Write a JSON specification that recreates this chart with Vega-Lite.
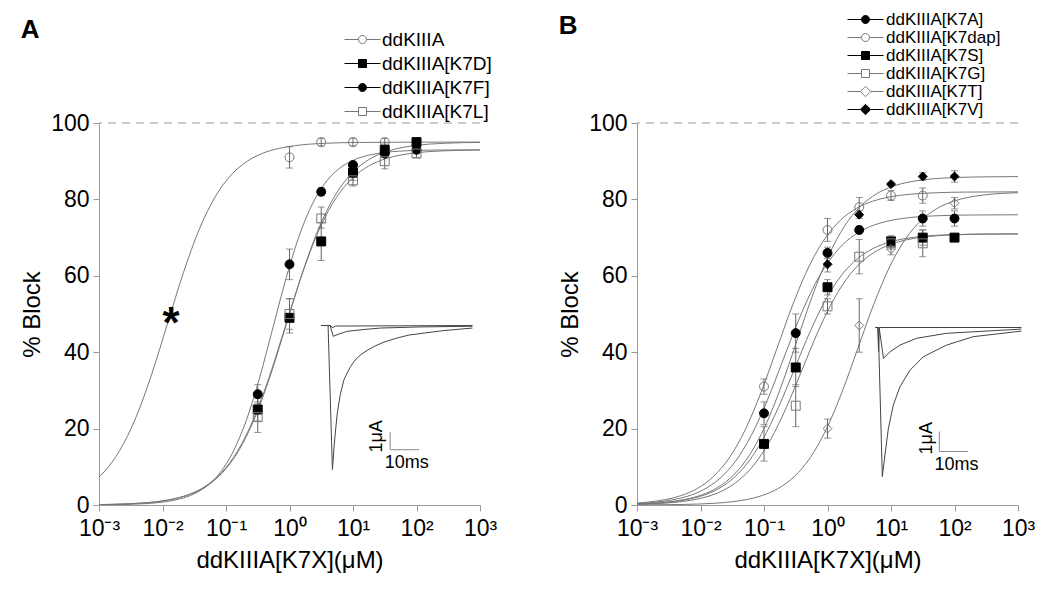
{
  "$schema": "https://vega.github.io/schema/vega-lite/v6.json",
  "background": "white",
  "padding": {"left": 20, "top": 11, "right": 5, "bottom": 5},
  "bounds": "flush",
  "spacing": 157,
  "resolve": {"scale": {"shape": "independent", "fill": "independent", "stroke": "independent"}, "legend": {"shape": "independent", "fill": "independent", "stroke": "independent"}},
  "config": {
    "view": {"stroke": null},
    "font": "Liberation Sans",
    "axis": {"domainColor": "#999", "tickColor": "#999", "labelColor": "black", "titleColor": "black", "grid": false, "labelFont": "Liberation Sans", "titleFont": "Liberation Sans", "labelFontSize": 23, "titleFontSize": 24, "titleFontWeight": "normal", "tickSize": 6, "labelFlush": false, "labelOverlap": false},
    "legend": {"labelFont": "Liberation Sans", "labelColor": "black", "padding": 0, "title": null, "symbolStrokeWidth": 1}
  },
  "datasets": {
    "ptsA": [
      {"s":"ddKIIIA","c":1,"v":91,"lo":88.2,"hi":93.8},
      {"s":"ddKIIIA","c":3.16,"v":95,"lo":94,"hi":96},
      {"s":"ddKIIIA","c":10,"v":95,"lo":94,"hi":96},
      {"s":"ddKIIIA","c":31.6,"v":95,"lo":94,"hi":96},
      {"s":"ddKIIIA[K7D]","c":0.316,"v":25,"lo":22,"hi":28},
      {"s":"ddKIIIA[K7D]","c":1,"v":49,"lo":45,"hi":54},
      {"s":"ddKIIIA[K7D]","c":3.16,"v":69,"lo":64,"hi":74},
      {"s":"ddKIIIA[K7D]","c":10,"v":87,"lo":85,"hi":89},
      {"s":"ddKIIIA[K7D]","c":31.6,"v":93,"lo":91.5,"hi":94.5},
      {"s":"ddKIIIA[K7D]","c":100,"v":95,"lo":94,"hi":96},
      {"s":"ddKIIIA[K7F]","c":0.316,"v":29,"lo":26.5,"hi":31.5},
      {"s":"ddKIIIA[K7F]","c":1,"v":63,"lo":59,"hi":67},
      {"s":"ddKIIIA[K7F]","c":3.16,"v":82,"lo":81,"hi":83},
      {"s":"ddKIIIA[K7F]","c":10,"v":89,"lo":88,"hi":90},
      {"s":"ddKIIIA[K7F]","c":31.6,"v":92,"lo":91,"hi":93},
      {"s":"ddKIIIA[K7F]","c":100,"v":93,"lo":92,"hi":94},
      {"s":"ddKIIIA[K7L]","c":0.316,"v":23,"lo":19,"hi":27},
      {"s":"ddKIIIA[K7L]","c":1,"v":50,"lo":46,"hi":54},
      {"s":"ddKIIIA[K7L]","c":3.16,"v":75,"lo":72.5,"hi":78},
      {"s":"ddKIIIA[K7L]","c":10,"v":85,"lo":83.5,"hi":86.5},
      {"s":"ddKIIIA[K7L]","c":31.6,"v":90,"lo":88,"hi":92},
      {"s":"ddKIIIA[K7L]","c":100,"v":92,"lo":91,"hi":93}
    ],
    "curveA": [
      {"s":"ddKIIIA","c":0.000675,"v":5.06},{"s":"ddKIIIA","c":0.0012,"v":8.64},{"s":"ddKIIIA","c":0.002134,"v":14.34},{"s":"ddKIIIA","c":0.003795,"v":22.82},{"s":"ddKIIIA","c":0.006748,"v":34.19},{"s":"ddKIIIA","c":0.012,"v":47.5},{"s":"ddKIIIA","c":0.02134,"v":60.81},{"s":"ddKIIIA","c":0.03795,"v":72.18},{"s":"ddKIIIA","c":0.06748,"v":80.66},{"s":"ddKIIIA","c":0.12,"v":86.36},{"s":"ddKIIIA","c":0.2134,"v":89.94},{"s":"ddKIIIA","c":0.3795,"v":92.09},{"s":"ddKIIIA","c":0.6748,"v":93.34},{"s":"ddKIIIA","c":1.2,"v":94.06},{"s":"ddKIIIA","c":3.795,"v":94.7},{"s":"ddKIIIA","c":12,"v":94.91},{"s":"ddKIIIA","c":120,"v":94.99},{"s":"ddKIIIA","c":1200,"v":95},
      {"s":"ddKIIIA[K7D]","c":0.0009,"v":0.095},{"s":"ddKIIIA[K7D]","c":0.002846,"v":0.3},{"s":"ddKIIIA[K7D]","c":0.005061,"v":0.53},{"s":"ddKIIIA[K7D]","c":0.009,"v":0.94},{"s":"ddKIIIA[K7D]","c":0.016,"v":1.66},{"s":"ddKIIIA[K7D]","c":0.02846,"v":2.91},{"s":"ddKIIIA[K7D]","c":0.05061,"v":5.06},{"s":"ddKIIIA[K7D]","c":0.09,"v":8.64},{"s":"ddKIIIA[K7D]","c":0.16,"v":14.34},{"s":"ddKIIIA[K7D]","c":0.2846,"v":22.82},{"s":"ddKIIIA[K7D]","c":0.5061,"v":34.19},{"s":"ddKIIIA[K7D]","c":0.9,"v":47.5},{"s":"ddKIIIA[K7D]","c":1.6,"v":60.81},{"s":"ddKIIIA[K7D]","c":2.846,"v":72.18},{"s":"ddKIIIA[K7D]","c":5.061,"v":80.66},{"s":"ddKIIIA[K7D]","c":9,"v":86.36},{"s":"ddKIIIA[K7D]","c":16,"v":89.94},{"s":"ddKIIIA[K7D]","c":28.46,"v":92.09},{"s":"ddKIIIA[K7D]","c":50.61,"v":93.34},{"s":"ddKIIIA[K7D]","c":90,"v":94.06},{"s":"ddKIIIA[K7D]","c":284.6,"v":94.7},{"s":"ddKIIIA[K7D]","c":900,"v":94.91},{"s":"ddKIIIA[K7D]","c":2846,"v":94.97},
      {"s":"ddKIIIA[K7F]","c":0.000255,"v":0.009},{"s":"ddKIIIA[K7F]","c":0.001739,"v":0.093},{"s":"ddKIIIA[K7F]","c":0.00454,"v":0.293},{"s":"ddKIIIA[K7F]","c":0.01185,"v":0.921},{"s":"ddKIIIA[K7F]","c":0.01914,"v":1.625},{"s":"ddKIIIA[K7F]","c":0.03093,"v":2.851},{"s":"ddKIIIA[K7F]","c":0.04997,"v":4.952},{"s":"ddKIIIA[K7F]","c":0.08074,"v":8.455},{"s":"ddKIIIA[K7F]","c":0.1304,"v":14.04},{"s":"ddKIIIA[K7F]","c":0.2107,"v":22.34},{"s":"ddKIIIA[K7F]","c":0.3404,"v":33.47},{"s":"ddKIIIA[K7F]","c":0.55,"v":46.5},{"s":"ddKIIIA[K7F]","c":0.8887,"v":59.53},{"s":"ddKIIIA[K7F]","c":1.4355,"v":70.66},{"s":"ddKIIIA[K7F]","c":2.319,"v":78.96},{"s":"ddKIIIA[K7F]","c":3.747,"v":84.55},{"s":"ddKIIIA[K7F]","c":6.054,"v":88.05},{"s":"ddKIIIA[K7F]","c":9.779,"v":90.15},{"s":"ddKIIIA[K7F]","c":15.8,"v":91.37},{"s":"ddKIIIA[K7F]","c":25.53,"v":92.08},{"s":"ddKIIIA[K7F]","c":66.66,"v":92.71},{"s":"ddKIIIA[K7F]","c":173.9,"v":92.91},{"s":"ddKIIIA[K7F]","c":1185,"v":92.99},
      {"s":"ddKIIIA[K7L]","c":0.00085,"v":0.093},{"s":"ddKIIIA[K7L]","c":0.002688,"v":0.293},{"s":"ddKIIIA[K7L]","c":0.00478,"v":0.52},{"s":"ddKIIIA[K7L]","c":0.0085,"v":0.921},{"s":"ddKIIIA[K7L]","c":0.01511,"v":1.625},{"s":"ddKIIIA[K7L]","c":0.02688,"v":2.851},{"s":"ddKIIIA[K7L]","c":0.0478,"v":4.952},{"s":"ddKIIIA[K7L]","c":0.085,"v":8.455},{"s":"ddKIIIA[K7L]","c":0.1511,"v":14.04},{"s":"ddKIIIA[K7L]","c":0.2688,"v":22.34},{"s":"ddKIIIA[K7L]","c":0.478,"v":33.47},{"s":"ddKIIIA[K7L]","c":0.85,"v":46.5},{"s":"ddKIIIA[K7L]","c":1.511,"v":59.53},{"s":"ddKIIIA[K7L]","c":2.688,"v":70.66},{"s":"ddKIIIA[K7L]","c":4.78,"v":78.96},{"s":"ddKIIIA[K7L]","c":8.5,"v":84.55},{"s":"ddKIIIA[K7L]","c":15.11,"v":88.05},{"s":"ddKIIIA[K7L]","c":26.88,"v":90.15},{"s":"ddKIIIA[K7L]","c":47.8,"v":91.37},{"s":"ddKIIIA[K7L]","c":85,"v":92.08},{"s":"ddKIIIA[K7L]","c":268.8,"v":92.71},{"s":"ddKIIIA[K7L]","c":850,"v":92.91},{"s":"ddKIIIA[K7L]","c":2688,"v":92.97}
    ],
    "traceA": [
      {"tr":"big","t":0,"I":0},{"tr":"big","t":2.4,"I":0},{"tr":"big","t":3.9,"I":-8.0},{"tr":"big","t":4.5,"I":-6.7},{"tr":"big","t":5.0,"I":-5.8},{"tr":"big","t":5.6,"I":-4.85},{"tr":"big","t":6.6,"I":-3.85},{"tr":"big","t":7.9,"I":-3.0},{"tr":"big","t":9.0,"I":-2.64},{"tr":"big","t":10.2,"I":-2.27},{"tr":"big","t":11.7,"I":-1.92},{"tr":"big","t":13.7,"I":-1.62},{"tr":"big","t":15.5,"I":-1.42},{"tr":"big","t":18.3,"I":-1.16},{"tr":"big","t":21.7,"I":-0.92},{"tr":"big","t":26.3,"I":-0.69},{"tr":"big","t":30.3,"I":-0.53},{"tr":"big","t":35.5,"I":-0.42},{"tr":"big","t":42.4,"I":-0.28},{"tr":"big","t":52.2,"I":-0.14},
      {"tr":"mid","t":0,"I":0},{"tr":"mid","t":3.1,"I":0},{"tr":"mid","t":4.2,"I":-0.6},{"tr":"mid","t":6.2,"I":-0.47},{"tr":"mid","t":9.1,"I":-0.32},{"tr":"mid","t":14.8,"I":-0.22},{"tr":"mid","t":20.6,"I":-0.14},{"tr":"mid","t":33.8,"I":-0.08},{"tr":"mid","t":52.2,"I":-0.04},
      {"tr":"small","t":0,"I":0},{"tr":"small","t":3.3,"I":0},{"tr":"small","t":3.8,"I":-0.12},{"tr":"small","t":5.0,"I":-0.03},{"tr":"small","t":52.2,"I":0}
    ],
    "barA": [
      {"t":23.8,"t2":23.8,"I":-6.9,"I2":-5.9},
      {"t":23.8,"t2":33.8,"I":-6.9,"I2":-6.9}
    ],
    "ptsB": [
      {"s":"ddKIIIA[K7A]","c":0.1,"v":24,"lo":21,"hi":27},
      {"s":"ddKIIIA[K7A]","c":0.316,"v":45,"lo":40,"hi":50},
      {"s":"ddKIIIA[K7A]","c":1,"v":66,"lo":64.5,"hi":67.5},
      {"s":"ddKIIIA[K7A]","c":3.16,"v":72,"lo":71,"hi":73},
      {"s":"ddKIIIA[K7A]","c":31.6,"v":75,"lo":73,"hi":77},
      {"s":"ddKIIIA[K7A]","c":100,"v":75,"lo":73,"hi":77},
      {"s":"ddKIIIA[K7dap]","c":0.1,"v":31,"lo":29,"hi":33},
      {"s":"ddKIIIA[K7dap]","c":1,"v":72,"lo":69,"hi":75},
      {"s":"ddKIIIA[K7dap]","c":3.16,"v":78,"lo":75.5,"hi":80.5},
      {"s":"ddKIIIA[K7dap]","c":10,"v":81,"lo":79.7,"hi":82.3},
      {"s":"ddKIIIA[K7dap]","c":31.6,"v":81,"lo":79,"hi":83},
      {"s":"ddKIIIA[K7S]","c":0.1,"v":16,"lo":11.5,"hi":20.5},
      {"s":"ddKIIIA[K7S]","c":0.316,"v":36,"lo":31,"hi":41},
      {"s":"ddKIIIA[K7S]","c":1,"v":57,"lo":55,"hi":59},
      {"s":"ddKIIIA[K7S]","c":10,"v":69,"lo":67.5,"hi":70.5},
      {"s":"ddKIIIA[K7S]","c":31.6,"v":70,"lo":68,"hi":72},
      {"s":"ddKIIIA[K7S]","c":100,"v":70,"lo":69,"hi":71},
      {"s":"ddKIIIA[K7G]","c":0.316,"v":26,"lo":20.5,"hi":31.5},
      {"s":"ddKIIIA[K7G]","c":1,"v":52,"lo":50,"hi":54},
      {"s":"ddKIIIA[K7G]","c":3.16,"v":65,"lo":60.5,"hi":69.5},
      {"s":"ddKIIIA[K7G]","c":10,"v":68.5,"lo":67,"hi":70},
      {"s":"ddKIIIA[K7G]","c":31.6,"v":68.5,"lo":65,"hi":72},
      {"s":"ddKIIIA[K7T]","c":1,"v":20,"lo":17.5,"hi":22.5},
      {"s":"ddKIIIA[K7T]","c":3.16,"v":47,"lo":40,"hi":54},
      {"s":"ddKIIIA[K7T]","c":10,"v":67,"lo":65.5,"hi":68.5},
      {"s":"ddKIIIA[K7T]","c":100,"v":79,"lo":77.5,"hi":80.5},
      {"s":"ddKIIIA[K7V]","c":1,"v":63,"lo":61,"hi":65},
      {"s":"ddKIIIA[K7V]","c":3.16,"v":76,"lo":75,"hi":77},
      {"s":"ddKIIIA[K7V]","c":10,"v":84,"lo":83.5,"hi":84.5},
      {"s":"ddKIIIA[K7V]","c":31.6,"v":86,"lo":85,"hi":87},
      {"s":"ddKIIIA[K7V]","c":100,"v":86,"lo":84.5,"hi":87.5}
    ],
    "curveB": [
      {"s":"ddKIIIA[K7A]","c":0.0006324,"v":0.24},{"s":"ddKIIIA[K7A]","c":0.0011246,"v":0.425},{"s":"ddKIIIA[K7A]","c":0.002,"v":0.752},{"s":"ddKIIIA[K7A]","c":0.003556,"v":1.328},{"s":"ddKIIIA[K7A]","c":0.006324,"v":2.33},{"s":"ddKIIIA[K7A]","c":0.011246,"v":4.047},{"s":"ddKIIIA[K7A]","c":0.02,"v":6.909},{"s":"ddKIIIA[K7A]","c":0.03556,"v":11.48},{"s":"ddKIIIA[K7A]","c":0.06324,"v":18.26},{"s":"ddKIIIA[K7A]","c":0.11246,"v":27.36},{"s":"ddKIIIA[K7A]","c":0.2,"v":38},{"s":"ddKIIIA[K7A]","c":0.3556,"v":48.64},{"s":"ddKIIIA[K7A]","c":0.6324,"v":57.74},{"s":"ddKIIIA[K7A]","c":1.1246,"v":64.52},{"s":"ddKIIIA[K7A]","c":2,"v":69.09},{"s":"ddKIIIA[K7A]","c":3.556,"v":71.95},{"s":"ddKIIIA[K7A]","c":6.324,"v":73.67},{"s":"ddKIIIA[K7A]","c":11.246,"v":74.67},{"s":"ddKIIIA[K7A]","c":20,"v":75.25},{"s":"ddKIIIA[K7A]","c":63.24,"v":75.76},{"s":"ddKIIIA[K7A]","c":200,"v":75.92},{"s":"ddKIIIA[K7A]","c":2000,"v":75.99},
      {"s":"ddKIIIA[K7dap]","c":0.0008997,"v":0.4585},{"s":"ddKIIIA[K7dap]","c":0.0016,"v":0.812},{"s":"ddKIIIA[K7dap]","c":0.002845,"v":1.433},{"s":"ddKIIIA[K7dap]","c":0.005059,"v":2.514},{"s":"ddKIIIA[K7dap]","c":0.008997,"v":4.366},{"s":"ddKIIIA[K7dap]","c":0.016,"v":7.455},{"s":"ddKIIIA[K7dap]","c":0.02845,"v":12.38},{"s":"ddKIIIA[K7dap]","c":0.05059,"v":19.7},{"s":"ddKIIIA[K7dap]","c":0.08997,"v":29.51},{"s":"ddKIIIA[K7dap]","c":0.16,"v":41},{"s":"ddKIIIA[K7dap]","c":0.2845,"v":52.49},{"s":"ddKIIIA[K7dap]","c":0.5059,"v":62.3},{"s":"ddKIIIA[K7dap]","c":0.8997,"v":69.62},{"s":"ddKIIIA[K7dap]","c":1.6,"v":74.55},{"s":"ddKIIIA[K7dap]","c":2.845,"v":77.63},{"s":"ddKIIIA[K7dap]","c":5.059,"v":79.49},{"s":"ddKIIIA[K7dap]","c":8.997,"v":80.57},{"s":"ddKIIIA[K7dap]","c":16,"v":81.19},{"s":"ddKIIIA[K7dap]","c":50.59,"v":81.74},{"s":"ddKIIIA[K7dap]","c":160,"v":81.92},{"s":"ddKIIIA[K7dap]","c":1600,"v":81.99},
      {"s":"ddKIIIA[K7S]","c":0.0009487,"v":0.224},{"s":"ddKIIIA[K7S]","c":0.001687,"v":0.397},{"s":"ddKIIIA[K7S]","c":0.003,"v":0.703},{"s":"ddKIIIA[K7S]","c":0.005335,"v":1.241},{"s":"ddKIIIA[K7S]","c":0.009487,"v":2.176},{"s":"ddKIIIA[K7S]","c":0.01687,"v":3.78},{"s":"ddKIIIA[K7S]","c":0.03,"v":6.455},{"s":"ddKIIIA[K7S]","c":0.05335,"v":10.72},{"s":"ddKIIIA[K7S]","c":0.09487,"v":17.06},{"s":"ddKIIIA[K7S]","c":0.1687,"v":25.56},{"s":"ddKIIIA[K7S]","c":0.3,"v":35.5},{"s":"ddKIIIA[K7S]","c":0.5335,"v":45.44},{"s":"ddKIIIA[K7S]","c":0.9487,"v":53.94},{"s":"ddKIIIA[K7S]","c":1.687,"v":60.28},{"s":"ddKIIIA[K7S]","c":3,"v":64.55},{"s":"ddKIIIA[K7S]","c":5.335,"v":67.22},{"s":"ddKIIIA[K7S]","c":9.487,"v":68.82},{"s":"ddKIIIA[K7S]","c":16.87,"v":69.76},{"s":"ddKIIIA[K7S]","c":30,"v":70.3},{"s":"ddKIIIA[K7S]","c":94.87,"v":70.78},{"s":"ddKIIIA[K7S]","c":300,"v":70.93},{"s":"ddKIIIA[K7S]","c":3000,"v":70.99},
      {"s":"ddKIIIA[K7G]","c":0.0004,"v":0.071},{"s":"ddKIIIA[K7G]","c":0.001265,"v":0.224},{"s":"ddKIIIA[K7G]","c":0.002249,"v":0.397},{"s":"ddKIIIA[K7G]","c":0.004,"v":0.703},{"s":"ddKIIIA[K7G]","c":0.007113,"v":1.241},{"s":"ddKIIIA[K7G]","c":0.01265,"v":2.176},{"s":"ddKIIIA[K7G]","c":0.02249,"v":3.78},{"s":"ddKIIIA[K7G]","c":0.04,"v":6.455},{"s":"ddKIIIA[K7G]","c":0.07113,"v":10.72},{"s":"ddKIIIA[K7G]","c":0.1265,"v":17.06},{"s":"ddKIIIA[K7G]","c":0.2249,"v":25.56},{"s":"ddKIIIA[K7G]","c":0.4,"v":35.5},{"s":"ddKIIIA[K7G]","c":0.7113,"v":45.44},{"s":"ddKIIIA[K7G]","c":1.265,"v":53.94},{"s":"ddKIIIA[K7G]","c":2.249,"v":60.28},{"s":"ddKIIIA[K7G]","c":4,"v":64.55},{"s":"ddKIIIA[K7G]","c":7.113,"v":67.22},{"s":"ddKIIIA[K7G]","c":12.65,"v":68.82},{"s":"ddKIIIA[K7G]","c":22.49,"v":69.76},{"s":"ddKIIIA[K7G]","c":40,"v":70.3},{"s":"ddKIIIA[K7G]","c":126.5,"v":70.78},{"s":"ddKIIIA[K7G]","c":400,"v":70.93},{"s":"ddKIIIA[K7G]","c":1265,"v":70.98},
      {"s":"ddKIIIA[K7T]","c":0.0009487,"v":0.026},{"s":"ddKIIIA[K7T]","c":0.003,"v":0.082},{"s":"ddKIIIA[K7T]","c":0.009487,"v":0.2585},{"s":"ddKIIIA[K7T]","c":0.01687,"v":0.4585},{"s":"ddKIIIA[K7T]","c":0.03,"v":0.812},{"s":"ddKIIIA[K7T]","c":0.05335,"v":1.433},{"s":"ddKIIIA[K7T]","c":0.09487,"v":2.514},{"s":"ddKIIIA[K7T]","c":0.1687,"v":4.366},{"s":"ddKIIIA[K7T]","c":0.3,"v":7.455},{"s":"ddKIIIA[K7T]","c":0.5335,"v":12.38},{"s":"ddKIIIA[K7T]","c":0.9487,"v":19.7},{"s":"ddKIIIA[K7T]","c":1.687,"v":29.51},{"s":"ddKIIIA[K7T]","c":3,"v":41},{"s":"ddKIIIA[K7T]","c":5.335,"v":52.49},{"s":"ddKIIIA[K7T]","c":9.487,"v":62.3},{"s":"ddKIIIA[K7T]","c":16.87,"v":69.62},{"s":"ddKIIIA[K7T]","c":30,"v":74.55},{"s":"ddKIIIA[K7T]","c":53.35,"v":77.63},{"s":"ddKIIIA[K7T]","c":94.87,"v":79.49},{"s":"ddKIIIA[K7T]","c":168.7,"v":80.57},{"s":"ddKIIIA[K7T]","c":300,"v":81.19},{"s":"ddKIIIA[K7T]","c":948.7,"v":81.74},{"s":"ddKIIIA[K7T]","c":3000,"v":81.92},
      {"s":"ddKIIIA[K7V]","c":0.00033,"v":0.086},{"s":"ddKIIIA[K7V]","c":0.0010435,"v":0.271},{"s":"ddKIIIA[K7V]","c":0.001856,"v":0.481},{"s":"ddKIIIA[K7V]","c":0.0033,"v":0.851},{"s":"ddKIIIA[K7V]","c":0.005868,"v":1.503},{"s":"ddKIIIA[K7V]","c":0.010435,"v":2.636},{"s":"ddKIIIA[K7V]","c":0.018556,"v":4.579},{"s":"ddKIIIA[K7V]","c":0.033,"v":7.818},{"s":"ddKIIIA[K7V]","c":0.05868,"v":12.99},{"s":"ddKIIIA[K7V]","c":0.10435,"v":20.66},{"s":"ddKIIIA[K7V]","c":0.18556,"v":30.95},{"s":"ddKIIIA[K7V]","c":0.33,"v":43},{"s":"ddKIIIA[K7V]","c":0.5868,"v":55.05},{"s":"ddKIIIA[K7V]","c":1.0435,"v":65.34},{"s":"ddKIIIA[K7V]","c":1.8556,"v":73.01},{"s":"ddKIIIA[K7V]","c":3.3,"v":78.18},{"s":"ddKIIIA[K7V]","c":5.868,"v":81.42},{"s":"ddKIIIA[K7V]","c":10.435,"v":83.36},{"s":"ddKIIIA[K7V]","c":18.556,"v":84.5},{"s":"ddKIIIA[K7V]","c":33,"v":85.15},{"s":"ddKIIIA[K7V]","c":104.35,"v":85.73},{"s":"ddKIIIA[K7V]","c":330,"v":85.91},{"s":"ddKIIIA[K7V]","c":1043.5,"v":85.97}
    ],
    "traceB": [
      {"tr":"big","t":0,"I":0},{"tr":"big","t":1.1,"I":0},{"tr":"big","t":2.5,"I":-7.46},{"tr":"big","t":3.4,"I":-6.38},{"tr":"big","t":4.6,"I":-5.04},{"tr":"big","t":6.3,"I":-3.88},{"tr":"big","t":8.6,"I":-2.96},{"tr":"big","t":12.1,"I":-2.13},{"tr":"big","t":16.7,"I":-1.46},{"tr":"big","t":24.7,"I":-0.88},{"tr":"big","t":33.9,"I":-0.46},{"tr":"big","t":50.6,"I":-0.18},
      {"tr":"mid","t":0,"I":0},{"tr":"mid","t":1.4,"I":0},{"tr":"mid","t":2.9,"I":-1.54},{"tr":"mid","t":5.2,"I":-1.21},{"tr":"mid","t":8.6,"I":-0.88},{"tr":"mid","t":14.3,"I":-0.54},{"tr":"mid","t":24.7,"I":-0.29},{"tr":"mid","t":50.6,"I":-0.08},
      {"tr":"small","t":0,"I":0},{"tr":"small","t":0.9,"I":0},{"tr":"small","t":1.2,"I":-1.2},{"tr":"small","t":1.5,"I":0},{"tr":"small","t":50.6,"I":0}
    ],
    "barB": [
      {"t":22.2,"t2":22.2,"I":-6.2,"I2":-5.2},
      {"t":22.2,"t2":32.2,"I":-6.2,"I2":-6.2}
    ]
  },
  "hconcat": [
    {
      "width": 381,
      "height": 382,
      "title": {"text": "A", "anchor": "start", "frame": "bounds", "font": "Liberation Sans", "fontSize": 26, "fontWeight": "bold", "color": "black", "offset": -13},
      "layer": [
        {
          "layer": [
            {
              "data": {"name": "curveA"},
              "mark": {"type": "line", "interpolate": "monotone", "color": "#777", "strokeWidth": 1, "clip": true},
              "encoding": {
                "x": {"field": "c", "type": "quantitative", "title": "ddKIIIA[K7X](μM)", "scale": {"type": "log", "domain": [0.001, 1000], "nice": false}, "axis": {"values": [0.001, 0.01, 0.1, 1, 10, 100, 1000], "labelExpr": "['10⁻³','10⁻²','10⁻¹','10⁰','10¹','10²','10³'][round(log(datum.value)/LN10) + 3]", "labelPadding": 6, "titlePadding": 8}},
                "y": {"field": "v", "type": "quantitative", "title": "% Block", "scale": {"domain": [0, 100], "nice": false}, "axis": {"values": [0, 20, 40, 60, 80, 100], "labelPadding": 4, "titlePadding": 6}},
                "detail": {"field": "s"}
              }
            },
            {
              "data": {"values": [{"ref": 100}]},
              "mark": {"type": "rule", "color": "#999", "strokeWidth": 1, "strokeDash": [8, 6]},
              "encoding": {"y": {"field": "ref", "type": "quantitative", "title": "% Block"}}
            },
            {
              "data": {"name": "ptsA"},
              "mark": {"type": "errorbar", "ticks": true, "size": 7, "thickness": 1, "color": "#666"},
              "encoding": {
                "x": {"field": "c", "type": "quantitative", "title": "ddKIIIA[K7X](μM)"},
                "y": {"field": "lo", "type": "quantitative", "title": "% Block"},
                "y2": {"field": "hi"}
              }
            },
            {
              "data": {"name": "ptsA"},
              "mark": {"type": "point", "size": 80, "strokeWidth": 1, "opacity": 1, "fillOpacity": 1},
              "encoding": {
                "x": {"field": "c", "type": "quantitative", "title": "ddKIIIA[K7X](μM)"},
                "y": {"field": "v", "type": "quantitative", "title": "% Block"},
                "shape": {"field": "s", "type": "nominal", "legend": null, "scale": {"domain": ["ddKIIIA", "ddKIIIA[K7D]", "ddKIIIA[K7F]", "ddKIIIA[K7L]"], "range": ["circle", "square", "circle", "square"]}},
                "fill": {"field": "s", "type": "nominal", "legend": null, "scale": {"domain": ["ddKIIIA", "ddKIIIA[K7D]", "ddKIIIA[K7F]", "ddKIIIA[K7L]"], "range": ["transparent", "black", "black", "transparent"]}},
                "stroke": {"field": "s", "type": "nominal", "legend": null, "scale": {"domain": ["ddKIIIA", "ddKIIIA[K7D]", "ddKIIIA[K7F]", "ddKIIIA[K7L]"], "range": ["#777", "black", "black", "#777"]}}
              }
            },
            {
              "data": {"values": []},
              "mark": {"type": "point", "size": 64, "strokeWidth": 1, "opacity": 1, "fillOpacity": 1},
              "encoding": {
                "shape": {"field": "s", "type": "nominal", "scale": {"domain": ["ddKIIIA", "ddKIIIA[K7D]", "ddKIIIA[K7F]", "ddKIIIA[K7L]"], "range": ["M-4.5,0H-1M1,0H4.5M-1,0A1,1,0,1,0,1,0A1,1,0,1,0,-1,0Z", "M-4.5,0H-1M1,0H4.5M-1,-1H1V1H-1Z", "M-4.5,0H-1M1,0H4.5M-1,0A1,1,0,1,0,1,0A1,1,0,1,0,-1,0Z", "M-4.5,0H-1M1,0H4.5M-1,-1H1V1H-1Z"]},
                  "legend": {"orient": "none", "legendX": 254, "legendY": -93, "title": null, "labelFontSize": 19, "symbolSize": 64, "labelOffset": 10, "rowPadding": 4}},
                "fill": {"field": "s", "type": "nominal", "scale": {"domain": ["ddKIIIA", "ddKIIIA[K7D]", "ddKIIIA[K7F]", "ddKIIIA[K7L]"], "range": ["transparent", "black", "black", "transparent"]}},
                "stroke": {"field": "s", "type": "nominal", "scale": {"domain": ["ddKIIIA", "ddKIIIA[K7D]", "ddKIIIA[K7F]", "ddKIIIA[K7L]"], "range": ["#777", "black", "black", "#777"]}}
              }
            },
            {
              "data": {"values": [{"c": 0.0136, "v": 50, "label": "*"}]},
              "mark": {"type": "text", "font": "Liberation Sans", "fontSize": 44, "fontWeight": "bold", "baseline": "alphabetic", "align": "center", "dy": 24, "color": "black"},
              "encoding": {
                "x": {"field": "c", "type": "quantitative", "title": "ddKIIIA[K7X](μM)"},
                "y": {"field": "v", "type": "quantitative", "title": "% Block"},
                "text": {"field": "label"}
              }
            }
          ],
          "resolve": {"scale": {"shape": "independent", "fill": "independent", "stroke": "independent"}}
        },
        {
          "layer": [
            {
              "data": {"name": "traceA"},
              "mark": {"type": "line", "color": "#444", "strokeWidth": 1},
              "encoding": {
                "x": {"field": "t", "type": "quantitative", "scale": {"domain": [-76.6, 54.8], "nice": false, "zero": false}, "axis": null},
                "y": {"field": "I", "type": "quantitative", "scale": {"domain": [-9.97, 11.25], "nice": false, "zero": false}, "axis": null},
                "detail": {"field": "tr"},
                "order": {"field": "t"}
              }
            },
            {
              "data": {"name": "barA"},
              "mark": {"type": "rule", "color": "#888", "strokeWidth": 1},
              "encoding": {
                "x": {"field": "t", "type": "quantitative", "axis": null},
                "x2": {"field": "t2"},
                "y": {"field": "I", "type": "quantitative", "axis": null},
                "y2": {"field": "I2"}
              }
            },
            {
              "data": {"values": [{"t": 19.4, "I": -6.16, "label": "1μA"}]},
              "mark": {"type": "text", "angle": 270, "fontSize": 18, "font": "Liberation Sans", "align": "center", "baseline": "middle", "color": "black"},
              "encoding": {
                "x": {"field": "t", "type": "quantitative", "axis": null},
                "y": {"field": "I", "type": "quantitative", "axis": null},
                "text": {"field": "label"}
              }
            },
            {
              "data": {"values": [{"t": 29.5, "I": -7.64, "label": "10ms"}]},
              "mark": {"type": "text", "fontSize": 18, "font": "Liberation Sans", "align": "center", "baseline": "middle", "color": "black"},
              "encoding": {
                "x": {"field": "t", "type": "quantitative", "axis": null},
                "y": {"field": "I", "type": "quantitative", "axis": null},
                "text": {"field": "label"}
              }
            }
          ]
        }
      ],
      "resolve": {"scale": {"x": "independent", "y": "independent"}}
    },
    {
      "width": 381,
      "height": 382,
      "title": {"text": "B", "anchor": "start", "frame": "bounds", "font": "Liberation Sans", "fontSize": 26, "fontWeight": "bold", "color": "black", "offset": -28},
      "layer": [
        {
          "layer": [
            {
              "data": {"name": "curveB"},
              "mark": {"type": "line", "interpolate": "monotone", "color": "#777", "strokeWidth": 1, "clip": true},
              "encoding": {
                "x": {"field": "c", "type": "quantitative", "title": "ddKIIIA[K7X](μM)", "scale": {"type": "log", "domain": [0.001, 1000], "nice": false}, "axis": {"values": [0.001, 0.01, 0.1, 1, 10, 100, 1000], "labelExpr": "['10⁻³','10⁻²','10⁻¹','10⁰','10¹','10²','10³'][round(log(datum.value)/LN10) + 3]", "labelPadding": 6, "titlePadding": 8}},
                "y": {"field": "v", "type": "quantitative", "title": "% Block", "scale": {"domain": [0, 100], "nice": false}, "axis": {"values": [0, 20, 40, 60, 80, 100], "labelPadding": 4, "titlePadding": 6}},
                "detail": {"field": "s"}
              }
            },
            {
              "data": {"values": [{"ref": 100}]},
              "mark": {"type": "rule", "color": "#999", "strokeWidth": 1, "strokeDash": [8, 6]},
              "encoding": {"y": {"field": "ref", "type": "quantitative", "title": "% Block"}}
            },
            {
              "data": {"name": "ptsB"},
              "mark": {"type": "errorbar", "ticks": true, "size": 7, "thickness": 1, "color": "#666"},
              "encoding": {
                "x": {"field": "c", "type": "quantitative", "title": "ddKIIIA[K7X](μM)"},
                "y": {"field": "lo", "type": "quantitative", "title": "% Block"},
                "y2": {"field": "hi"}
              }
            },
            {
              "data": {"name": "ptsB"},
              "mark": {"type": "point", "size": 80, "strokeWidth": 1, "opacity": 1, "fillOpacity": 1},
              "encoding": {
                "x": {"field": "c", "type": "quantitative", "title": "ddKIIIA[K7X](μM)"},
                "y": {"field": "v", "type": "quantitative", "title": "% Block"},
                "shape": {"field": "s", "type": "nominal", "legend": null, "scale": {"domain": ["ddKIIIA[K7A]", "ddKIIIA[K7dap]", "ddKIIIA[K7S]", "ddKIIIA[K7G]", "ddKIIIA[K7T]", "ddKIIIA[K7V]"], "range": ["circle", "circle", "square", "square", "diamond", "diamond"]}},
                "fill": {"field": "s", "type": "nominal", "legend": null, "scale": {"domain": ["ddKIIIA[K7A]", "ddKIIIA[K7dap]", "ddKIIIA[K7S]", "ddKIIIA[K7G]", "ddKIIIA[K7T]", "ddKIIIA[K7V]"], "range": ["black", "transparent", "black", "transparent", "transparent", "black"]}},
                "stroke": {"field": "s", "type": "nominal", "legend": null, "scale": {"domain": ["ddKIIIA[K7A]", "ddKIIIA[K7dap]", "ddKIIIA[K7S]", "ddKIIIA[K7G]", "ddKIIIA[K7T]", "ddKIIIA[K7V]"], "range": ["black", "#777", "black", "#777", "#777", "black"]}}
              }
            },
            {
              "data": {"values": []},
              "mark": {"type": "point", "size": 64, "strokeWidth": 1, "opacity": 1, "fillOpacity": 1},
              "encoding": {
                "shape": {"field": "s", "type": "nominal", "scale": {"domain": ["ddKIIIA[K7A]", "ddKIIIA[K7dap]", "ddKIIIA[K7S]", "ddKIIIA[K7G]", "ddKIIIA[K7T]", "ddKIIIA[K7V]"], "range": ["M-4.5,0H-1M1,0H4.5M-1,0A1,1,0,1,0,1,0A1,1,0,1,0,-1,0Z", "M-4.5,0H-1M1,0H4.5M-1,0A1,1,0,1,0,1,0A1,1,0,1,0,-1,0Z", "M-4.5,0H-1M1,0H4.5M-1,-1H1V1H-1Z", "M-4.5,0H-1M1,0H4.5M-1,-1H1V1H-1Z", "M-4.5,0H-1.3M1.3,0H4.5M0,-1.3L1.3,0L0,1.3L-1.3,0Z", "M-4.5,0H-1.3M1.3,0H4.5M0,-1.3L1.3,0L0,1.3L-1.3,0Z"]},
                  "legend": {"orient": "none", "legendX": 220, "legendY": -112, "title": null, "labelFontSize": 17, "symbolSize": 64, "labelOffset": 12, "rowPadding": 0}},
                "fill": {"field": "s", "type": "nominal", "scale": {"domain": ["ddKIIIA[K7A]", "ddKIIIA[K7dap]", "ddKIIIA[K7S]", "ddKIIIA[K7G]", "ddKIIIA[K7T]", "ddKIIIA[K7V]"], "range": ["black", "transparent", "black", "transparent", "transparent", "black"]}},
                "stroke": {"field": "s", "type": "nominal", "scale": {"domain": ["ddKIIIA[K7A]", "ddKIIIA[K7dap]", "ddKIIIA[K7S]", "ddKIIIA[K7G]", "ddKIIIA[K7T]", "ddKIIIA[K7V]"], "range": ["black", "#777", "black", "#777", "#777", "black"]}}
              }
            }
          ],
          "resolve": {"scale": {"shape": "independent", "fill": "independent", "stroke": "independent"}}
        },
        {
          "layer": [
            {
              "data": {"name": "traceB"},
              "mark": {"type": "line", "color": "#444", "strokeWidth": 1},
              "encoding": {
                "x": {"field": "t", "type": "quantitative", "scale": {"domain": [-82.3, 49.4], "nice": false, "zero": false}, "axis": null},
                "y": {"field": "I", "type": "quantitative", "scale": {"domain": [-8.875, 10.225], "nice": false, "zero": false}, "axis": null},
                "detail": {"field": "tr"},
                "order": {"field": "t"}
              }
            },
            {
              "data": {"name": "barB"},
              "mark": {"type": "rule", "color": "#888", "strokeWidth": 1},
              "encoding": {
                "x": {"field": "t", "type": "quantitative", "axis": null},
                "x2": {"field": "t2"},
                "y": {"field": "I", "type": "quantitative", "axis": null},
                "y2": {"field": "I2"}
              }
            },
            {
              "data": {"values": [{"t": 17.8, "I": -5.54, "label": "1μA"}]},
              "mark": {"type": "text", "angle": 270, "fontSize": 18, "font": "Liberation Sans", "align": "center", "baseline": "middle", "color": "black"},
              "encoding": {
                "x": {"field": "t", "type": "quantitative", "axis": null},
                "y": {"field": "I", "type": "quantitative", "axis": null},
                "text": {"field": "label"}
              }
            },
            {
              "data": {"values": [{"t": 28.1, "I": -6.875, "label": "10ms"}]},
              "mark": {"type": "text", "fontSize": 18, "font": "Liberation Sans", "align": "center", "baseline": "middle", "color": "black"},
              "encoding": {
                "x": {"field": "t", "type": "quantitative", "axis": null},
                "y": {"field": "I", "type": "quantitative", "axis": null},
                "text": {"field": "label"}
              }
            }
          ]
        }
      ],
      "resolve": {"scale": {"x": "independent", "y": "independent"}}
    }
  ]
}
